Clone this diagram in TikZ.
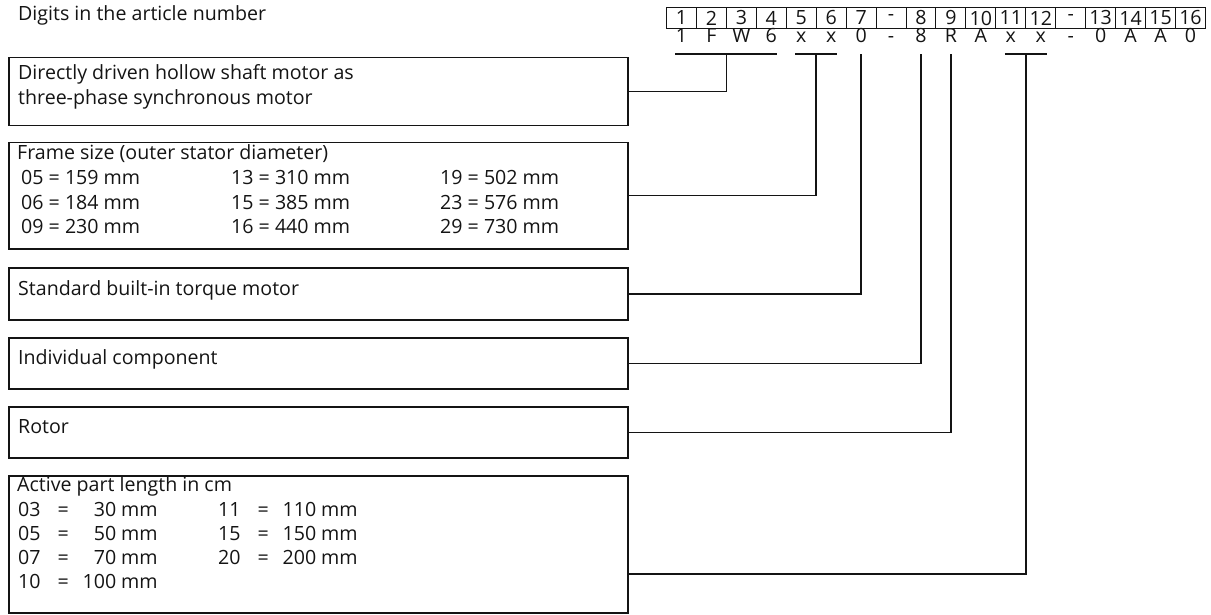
\documentclass[tikz,border=0pt]{standalone}
\usepackage{fontspec}
\setmainfont{Open Sans}
\usetikzlibrary{calc}
\definecolor{ink}{HTML}{141414}
\newcommand\myent[2]{\makebox[32pt][l]{#1}\makebox[26pt][c]{=}\makebox[40pt][r]{#2}\hspace{5pt}mm}
\begin{document}
\begin{tikzpicture}[x=1pt,y=-1pt,
  every node/.style={font=\fontsize{19.6}{23}\selectfont, text=ink},
  box/.style={draw=ink, line width=1.5pt, rectangle, inner sep=0pt, anchor=north west, minimum width=619pt},
  txt/.style={anchor=mid west, inner sep=0pt},
  cellbox/.style={draw=ink, line width=1pt, rectangle, inner sep=0pt, anchor=north west, minimum width=29.94pt, minimum height=21pt},
  letter/.style={inner sep=0pt, anchor=mid},
  conn/.style={draw=ink, line width=1.5pt}]
\useasboundingbox (0,0) rectangle (1211,615);
% title
\node[txt] (title) at (18,18) {Digits in the article number};
% digit cells
\foreach \t [count=\i] in {1,2,3,4,5,6,7,-,8,9,10,11,12,-,13,14,15,16}
  \node[cellbox] (c\i) at ({666+(\i-1)*29.94},7) {\t};
\foreach \t [count=\i] in {1,F,W,6,x,x,0,-,8,R,A,x,x,-,0,A,A,0}
  \node[letter] (l\i) at (c\i.center |- 0,40) {\t};
% boxes
\node[box, minimum height=68pt]  (b1) at (8,57)  {};
\node[box, minimum height=106pt] (b2) at (8,142) {};
\node[box, minimum height=52pt]  (b3) at (8,267) {};
\node[box, minimum height=51pt]  (b4) at (8,337) {};
\node[box, minimum height=51pt]  (b5) at (8,406) {};
\node[box, minimum height=137pt] (b6) at (8,475) {};
% box texts
\node[txt] (t1a) at (18,77)  {Directly driven hollow shaft motor as};
\node[txt] (t1b) at (18,102) {three-phase synchronous motor};
\node[txt] (t2)  at (17,157) {Frame size (outer stator diameter)};
\node[txt] (f11) at (21,182) {05 = 159 mm};
\node[txt] (f12) at (21,207) {06 = 184 mm};
\node[txt] (f13) at (21,231) {09 = 230 mm};
\node[txt] (f21) at (231,182) {13 = 310 mm};
\node[txt] (f22) at (231,207) {15 = 385 mm};
\node[txt] (f23) at (231,231) {16 = 440 mm};
\node[txt] (f31) at (440,182) {19 = 502 mm};
\node[txt] (f32) at (440,207) {23 = 576 mm};
\node[txt] (f33) at (440,231) {29 = 730 mm};
\node[txt] (t3)  at (18,293) {Standard built-in torque motor};
\node[txt] (t4)  at (18,362) {Individual component};
\node[txt] (t5)  at (18,431) {Rotor};
\node[txt] (t6)  at (17,489) {Active part length in cm};
\node[txt] (a11) at (18,514) {\myent{03}{30}};
\node[txt] (a12) at (18,538) {\myent{05}{50}};
\node[txt] (a13) at (18,562) {\myent{07}{70}};
\node[txt] (a14) at (18,586) {\myent{10}{100}};
\node[txt] (a21) at (218,514) {\myent{11}{110}};
\node[txt] (a22) at (218,538) {\myent{15}{150}};
\node[txt] (a23) at (218,562) {\myent{20}{200}};
% underline anchor points
\coordinate (m1) at ($(l1.center |- 0,54)!0.5!(l4.center |- 0,54)$);
\coordinate (m2) at ($(l5.center |- 0,54)!0.5!(l6.center |- 0,54)$);
\coordinate (m3) at (l7.center |- 0,54);
\coordinate (m4) at (l9.center |- 0,54);
\coordinate (m5) at (l10.center |- 0,54);
\coordinate (m6) at ($(l12.center |- 0,54)!0.5!(l13.center |- 0,54)$);
% underlines
\draw[conn] ([xshift=-6pt]l1.center |- 0,54) -- ([xshift=6pt]l4.center |- 0,54);
\draw[conn] ([xshift=-6pt]l5.center |- 0,54) -- ([xshift=6pt]l6.center |- 0,54);
\draw[conn] ([xshift=-6pt]l12.center |- 0,54) -- ([xshift=6pt]l13.center |- 0,54);
% connectors
\draw[conn] (b1.east) -| (m1);
\draw[conn] (b2.east) -| (m2);
\draw[conn] (b3.east) -| (m3);
\draw[conn] (b4.east) -| (m4);
\draw[conn] (b5.east) -| (m5);
\draw[conn] (b6.east |- 0,574) -| (m6);
\end{tikzpicture}
\end{document}
